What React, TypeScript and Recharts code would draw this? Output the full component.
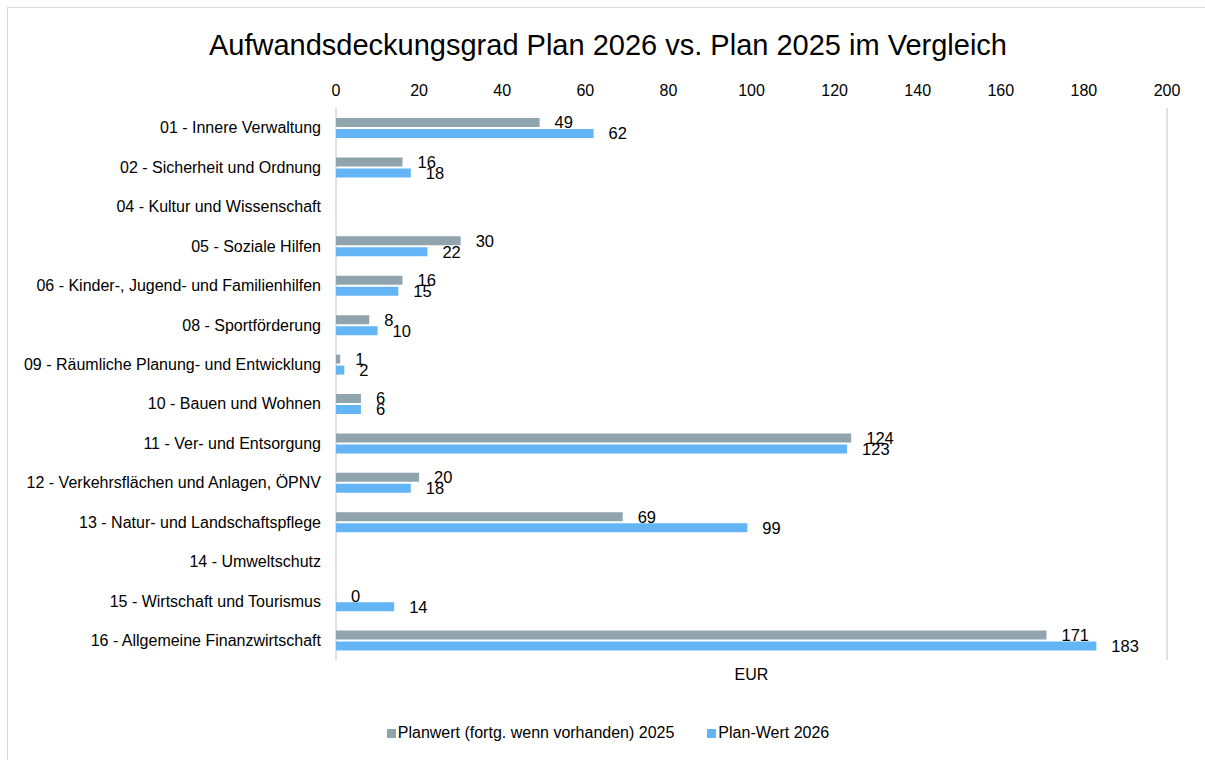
import React from "react";
import { BarChart, Bar, XAxis, YAxis, CartesianGrid, LabelList } from "recharts";

const categories = [
  "01 - Innere Verwaltung",
  "02 - Sicherheit und Ordnung",
  "04 - Kultur und Wissenschaft",
  "05 - Soziale Hilfen",
  "06 - Kinder-, Jugend- und Familienhilfen",
  "08 - Sportförderung",
  "09 - Räumliche Planung- und Entwicklung",
  "10 - Bauen und Wohnen",
  "11 - Ver- und Entsorgung",
  "12 - Verkehrsflächen und Anlagen, ÖPNV",
  "13 - Natur- und Landschaftspflege",
  "14 - Umweltschutz",
  "15 - Wirtschaft und Tourismus",
  "16 - Allgemeine Finanzwirtschaft",
];

const plan2025: (number | null)[] = [49, 16, null, 30, 16, 8, 1, 6, 124, 20, 69, null, 0, 171];
const plan2026: (number | null)[] = [62, 18, null, 22, 15, 10, 2, 6, 123, 18, 99, null, 14, 183];

const xTicks = [0, 20, 40, 60, 80, 100, 120, 140, 160, 180, 200];

const seriesNames = ["Planwert (fortg. wenn vorhanden) 2025", "Plan-Wert 2026"];
const colors = ["#90A4AE", "#64B5F6"];

const data = categories.map((c, i) => ({ name: c, p2025: plan2025[i], p2026: plan2026[i] }));

const FONT = "'Liberation Sans', Arial, sans-serif";

export default function App() {
  return (
    <div style={{ position: "absolute", left: 0, top: 0, width: 1205, height: 760, background: "#fff", overflow: "hidden", fontFamily: FONT }}>
      <div style={{ position: "absolute", left: 7, top: 7, width: 1210, height: 770, border: "1px solid #d9d9d9", boxSizing: "border-box" }} />
      <div style={{ position: "absolute", left: 0, top: 27, width: 1216, textAlign: "center", fontSize: 29, color: "#000", lineHeight: "36px" }}>
        Aufwandsdeckungsgrad Plan 2026 vs. Plan 2025 im Vergleich
      </div>
      <div style={{ position: "absolute", left: 0, top: 0 }}>
        <BarChart
          width={1205}
          height={760}
          data={data}
          layout="vertical"
          margin={{ top: 78, right: 38, bottom: 70, left: 0 }}
          barSize={9}
          barGap={2}
        >
          <CartesianGrid horizontal={false} stroke="#d9d9d9" strokeWidth={1.5} />
          <XAxis
            xAxisId="top"
            type="number"
            orientation="top"
            domain={[0, 200]}
            ticks={xTicks}
            axisLine={false}
            tickLine={false}
            tickSize={6}
            tickMargin={6}
            height={30}
            tick={{ fontSize: 16, fill: "#000", fontFamily: FONT }}
            interval={0}
          />
          <XAxis
            xAxisId="bottom"
            type="number"
            orientation="bottom"
            domain={[0, 200]}
            tick={false}
            axisLine={false}
            tickLine={false}
            height={30}
            label={{ value: "EUR", position: "insideTop", offset: 9, fontSize: 16, fill: "#000", fontFamily: FONT }}
          />
          <YAxis
            type="category"
            dataKey="name"
            width={336}
            axisLine={false}
            tickLine={false}
            tickSize={0}
            tickMargin={15}
            interval={0}
            tick={{ fontSize: 16, fill: "#000", fontFamily: FONT }}
          />
          <Bar dataKey="p2025" xAxisId="top" fill={colors[0]} minPointSize={0.01} isAnimationActive={false}>
            <LabelList dataKey="p2025" position="right" offset={15} style={{ fontSize: 16.5, fill: "#000", fontFamily: FONT }} />
          </Bar>
          <Bar dataKey="p2026" xAxisId="top" fill={colors[1]} isAnimationActive={false}>
            <LabelList dataKey="p2026" position="right" offset={15} style={{ fontSize: 16.5, fill: "#000", fontFamily: FONT }} />
          </Bar>
        </BarChart>
      </div>
      <div style={{ position: "absolute", left: 0, top: 723, width: 1216, display: "flex", justifyContent: "center", fontSize: 16, color: "#000", lineHeight: "20px" }}>
        {seriesNames.map((n, i) => (
          <div key={n} style={{ display: "flex", alignItems: "center", marginRight: i === 0 ? 33 : 0 }}>
            <span style={{ display: "inline-block", width: 9, height: 9, background: colors[i], marginRight: 2 }} />
            <span>{n}</span>
          </div>
        ))}
      </div>
    </div>
  );
}
